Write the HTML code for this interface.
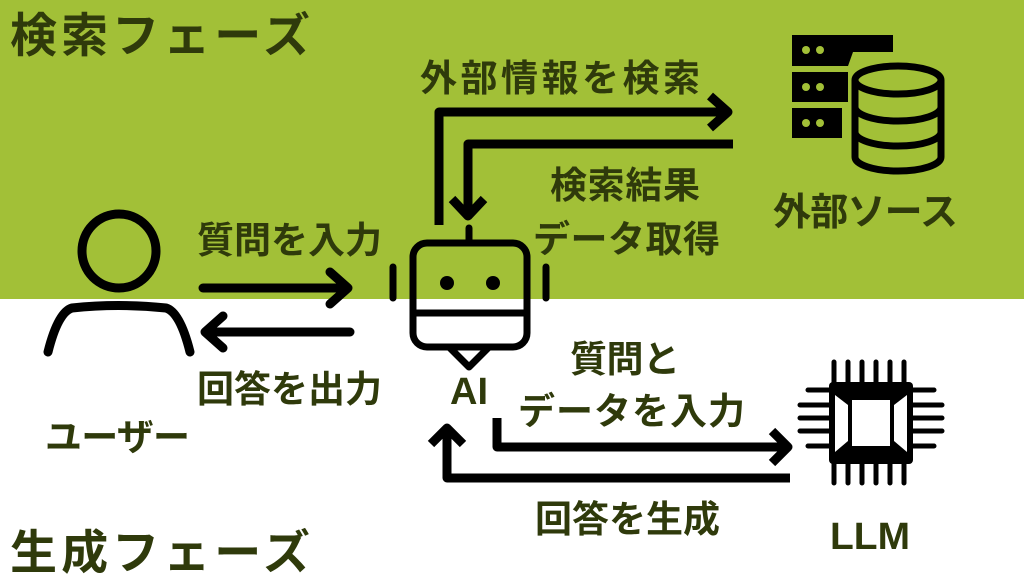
<!DOCTYPE html>
<html><head><meta charset="utf-8"><style>
html,body{margin:0;padding:0;background:#fff;}
svg{display:block;}
text{font-family:"Liberation Sans","Noto Sans CJK JP",sans-serif;fill:#2f3a0b;font-weight:bold;}
</style></head><body>
<svg width="1024" height="577" viewBox="0 0 1024 577" xmlns="http://www.w3.org/2000/svg">
<rect x="0" y="0" width="1024" height="299" fill="#a2c037"/>
<text x="10" y="52" font-size="47" textLength="300" lengthAdjust="spacing">検索フェーズ</text>
<text x="10" y="569" font-size="47" textLength="300" lengthAdjust="spacing">生成フェーズ</text>
<g fill="none" stroke="#000" stroke-width="9" stroke-linecap="round" stroke-linejoin="round">
<circle cx="119" cy="251" r="37"/>
<path d="M48,352 Q58,312 72,308 Q118,303 166,308 Q180,312 190,352"/>
<path d="M203,288 H348 M330,272 L348,288 L330,304"/>
<path d="M350,332 H205 M223,316 L205,332 L223,348"/>
<rect x="413" y="243" width="114" height="104" rx="14" stroke-width="7"/>
<path d="M413,313 H527" stroke-width="7"/>
<path d="M469,228 V243" stroke-width="7"/>
<path d="M393,267 V298 M546,267 V298" stroke-width="7"/>
<path d="M450,348 L469,367 L488,348" stroke-width="7"/>
<path d="M439,225 V112 H728 M710,96 L728,112 L710,128" stroke-linecap="butt"/>
<path d="M733,144 H468 V216 M452,199 L468,216 L484,199" stroke-linecap="butt"/>
<path d="M497,418 V447 H788 M772,431 L788,447 L772,463" stroke-linecap="butt"/>
<path d="M790,478 H447 V428 M431,444 L447,428 L463,444" stroke-linecap="butt"/>
</g>
<circle cx="447" cy="283" r="7" fill="#000"/>
<circle cx="493" cy="283" r="7" fill="#000"/>
<g fill="#000">
<path d="M792,35 H893 V52 H853 L848,66 H792 Z"/>
<rect x="792" y="72" width="56" height="30"/>
<rect x="792" y="108" width="50" height="30"/>
</g>
<g fill="#a2c037">
<circle cx="806" cy="50" r="4"/><circle cx="820" cy="50" r="4"/>
<circle cx="806" cy="87" r="4"/><circle cx="820" cy="87" r="4"/>
<circle cx="806" cy="123" r="4"/><circle cx="820" cy="123" r="4"/>
</g>
<g fill="none" stroke="#000" stroke-width="7">
<ellipse cx="898" cy="80" rx="43" ry="14"/>
<path d="M855,80 V157 A43,14 0 0 0 941,157 V80"/>
<path d="M855,107 A43,14 0 0 0 941,107 M855,132 A43,14 0 0 0 941,132"/>
</g>
<g stroke="#000" stroke-width="5" fill="none" stroke-linecap="round">
<path d="M834,383 V362 M848,383 V362 M862,383 V362 M876,383 V362 M890,383 V362 M904,383 V362"/>
<path d="M834,463 V483 M848,463 V483 M862,463 V483 M876,463 V483 M890,463 V483 M904,463 V483"/>
<path d="M830,390 H808 M830,405 H800 M830,418 H800 M830,431 H800 M830,446 H808"/>
<path d="M912,390 H934 M912,405 H942 M912,418 H942 M912,431 H942 M912,446 H934"/>
</g>
<rect x="829" y="382" width="84" height="82" rx="4" fill="#000"/>
<polygon points="835,395 848,405 848,441 835,452" fill="#fff"/>
<polygon points="907,395 894,405 894,441 907,452" fill="#fff"/>
<rect x="852" y="400" width="38" height="46" fill="#fff"/>
<text x="420" y="91" font-size="37" textLength="280" lengthAdjust="spacing">外部情報を検索</text>
<text x="550" y="198" font-size="37" textLength="150" lengthAdjust="spacing">検索結果</text>
<text x="533" y="252" font-size="37" textLength="187" lengthAdjust="spacing">データ取得</text>
<text x="773" y="225" font-size="38" textLength="185" lengthAdjust="spacing">外部ソース</text>
<text x="197" y="253" font-size="37" textLength="185" lengthAdjust="spacing">質問を入力</text>
<text x="197" y="402" font-size="37" textLength="185" lengthAdjust="spacing">回答を出力</text>
<text x="45" y="450" font-size="37" textLength="145" lengthAdjust="spacing">ユーザー</text>
<text x="450" y="404" font-size="38" textLength="38" lengthAdjust="spacingAndGlyphs">AI</text>
<text x="570" y="372" font-size="37" textLength="110" lengthAdjust="spacing">質問と</text>
<text x="518" y="424" font-size="37" textLength="227" lengthAdjust="spacing">データを入力</text>
<text x="535" y="532" font-size="37" textLength="185" lengthAdjust="spacing">回答を生成</text>
<text x="830" y="549" font-size="38" textLength="80" lengthAdjust="spacingAndGlyphs">LLM</text>
</svg>
</body></html>
